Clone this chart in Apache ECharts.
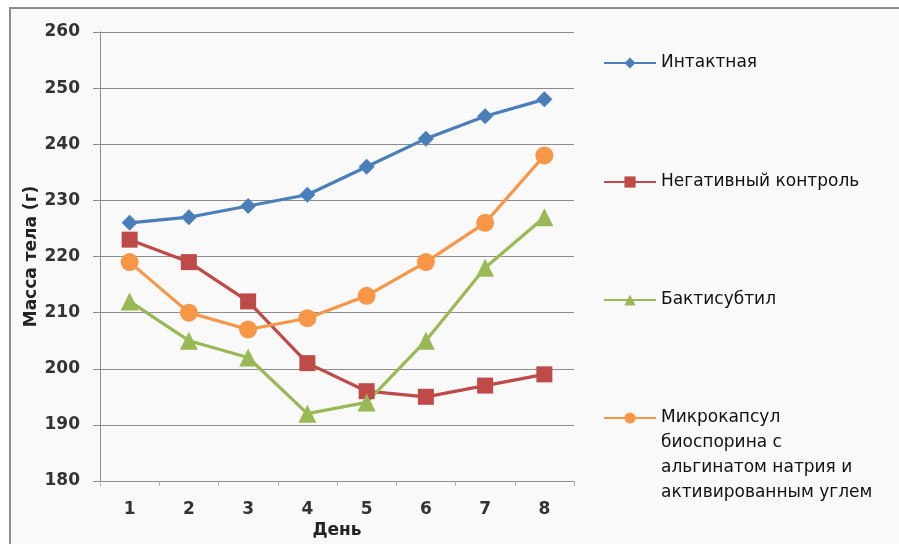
<!DOCTYPE html>
<html>
<head>
<meta charset="utf-8">
<script src="https://cdn.jsdelivr.net/npm/echarts@6/dist/echarts.min.js"></script>
<style>
  html, body { margin: 0; padding: 0; background: #ffffff; }
  #chart { width: 899px; height: 544px; }
</style>
</head>
<body>
<div id="chart"></div>
<script>
// Days of observation
const days = ['1', '2', '3', '4', '5', '6', '7', '8'];

// Body mass (g) per group
const intact = [226, 227, 229, 231, 236, 241, 245, 248];
const negativeControl = [223, 219, 212, 201, 196, 195, 197, 199];
const bactisubtil = [212, 205, 202, 192, 194, 205, 218, 227];
const microcapsules = [219, 210, 207, 209, 213, 219, 226, 238];

const seriesNames = [
  'Интактная',
  'Негативный контроль',
  'Бактисубтил',
  'Микрокапсул\nбиоспорина с\nальгинатом натрия и\nактивированным углем'
];

const colors = ['#4a7ebb', '#be4b48', '#98b954', '#f79646'];
const symbols = ['diamond', 'rect', 'triangle', 'circle'];
const symbolSizes = [16, 16, 18, 18];
const values = [intact, negativeControl, bactisubtil, microcapsules];

const axisFont = { fontFamily: 'DejaVu Sans', fontWeight: 'bold', fontSize: 17, color: '#333333' };
const legendLineHeight = 25;
const legendIconHeight = 14;

// One legend block per series so each entry can sit at its own height.
// The multi-line entry gets leading blank lines so its first line sits
// level with the icon; the block's top is offset by half the text height.
function makeLegend(i, centerY) {
  const lines = seriesNames[i].split('\n').length;
  const lead = '\n'.repeat(lines - 1);
  const totalLines = lines + (lines - 1);
  return {
    orient: 'vertical',
    left: 603,
    top: centerY - (totalLines * legendLineHeight) / 2,
    padding: 0,
    itemWidth: 52,
    itemHeight: legendIconHeight,
    data: [seriesNames[i]],
    selectedMode: false,
    formatter: name => lead + name,
    textStyle: {
      fontFamily: 'DejaVu Sans',
      fontSize: 17,
      color: '#111111',
      lineHeight: legendLineHeight
    }
  };
}

const chart = echarts.init(document.getElementById('chart'), null, { renderer: 'canvas' });

chart.setOption({
  animation: false,
  backgroundColor: '#ffffff',
  color: colors,
  graphic: [{
    type: 'rect',
    z: -10,
    shape: { x: 10, y: 8, width: 1000, height: 700 },
    style: { fill: '#f9f9f9', stroke: '#8c8c8c', lineWidth: 2 }
  }],
  legend: [
    makeLegend(0, 63),
    makeLegend(1, 182),
    makeLegend(2, 300),
    makeLegend(3, 418)
  ],
  grid: { left: 100, right: 325, top: 32, bottom: 63, containLabel: false },
  xAxis: {
    type: 'category',
    data: days,
    boundaryGap: true,
    name: 'День',
    nameLocation: 'middle',
    nameGap: 41,
    nameMoveOverlap: false,
    nameTextStyle: { fontFamily: 'DejaVu Sans', fontWeight: 'bold', fontSize: 17, color: '#222222' },
    axisLine: { lineStyle: { color: '#8c8c8c', width: 1 } },
    axisTick: { show: true, length: 5, lineStyle: { color: '#b0b0b0' } },
    axisLabel: Object.assign({ margin: 20 }, axisFont),
    splitLine: { show: false }
  },
  yAxis: {
    type: 'value',
    min: 180,
    max: 260,
    interval: 10,
    name: 'Масса тела (г)',
    nameLocation: 'middle',
    nameGap: 60,
    nameMoveOverlap: false,
    nameTextStyle: { fontFamily: 'DejaVu Sans', fontWeight: 'bold', fontSize: 17, color: '#222222' },
    axisLine: { show: true, lineStyle: { color: '#8c8c8c', width: 1 } },
    axisTick: { show: true, length: 7, lineStyle: { color: '#8c8c8c' } },
    axisLabel: Object.assign({ margin: 20 }, axisFont),
    splitLine: { show: true, lineStyle: { color: '#8c8c8c', width: 1 } }
  },
  series: values.map((data, i) => ({
    name: seriesNames[i],
    type: 'line',
    data: data,
    symbol: symbols[i],
    symbolSize: symbolSizes[i],
    showAllSymbol: true,
    lineStyle: { width: 3.2, color: colors[i] },
    itemStyle: { color: colors[i] },
    emphasis: { disabled: true }
  }))
});
</script>
</body>
</html>
